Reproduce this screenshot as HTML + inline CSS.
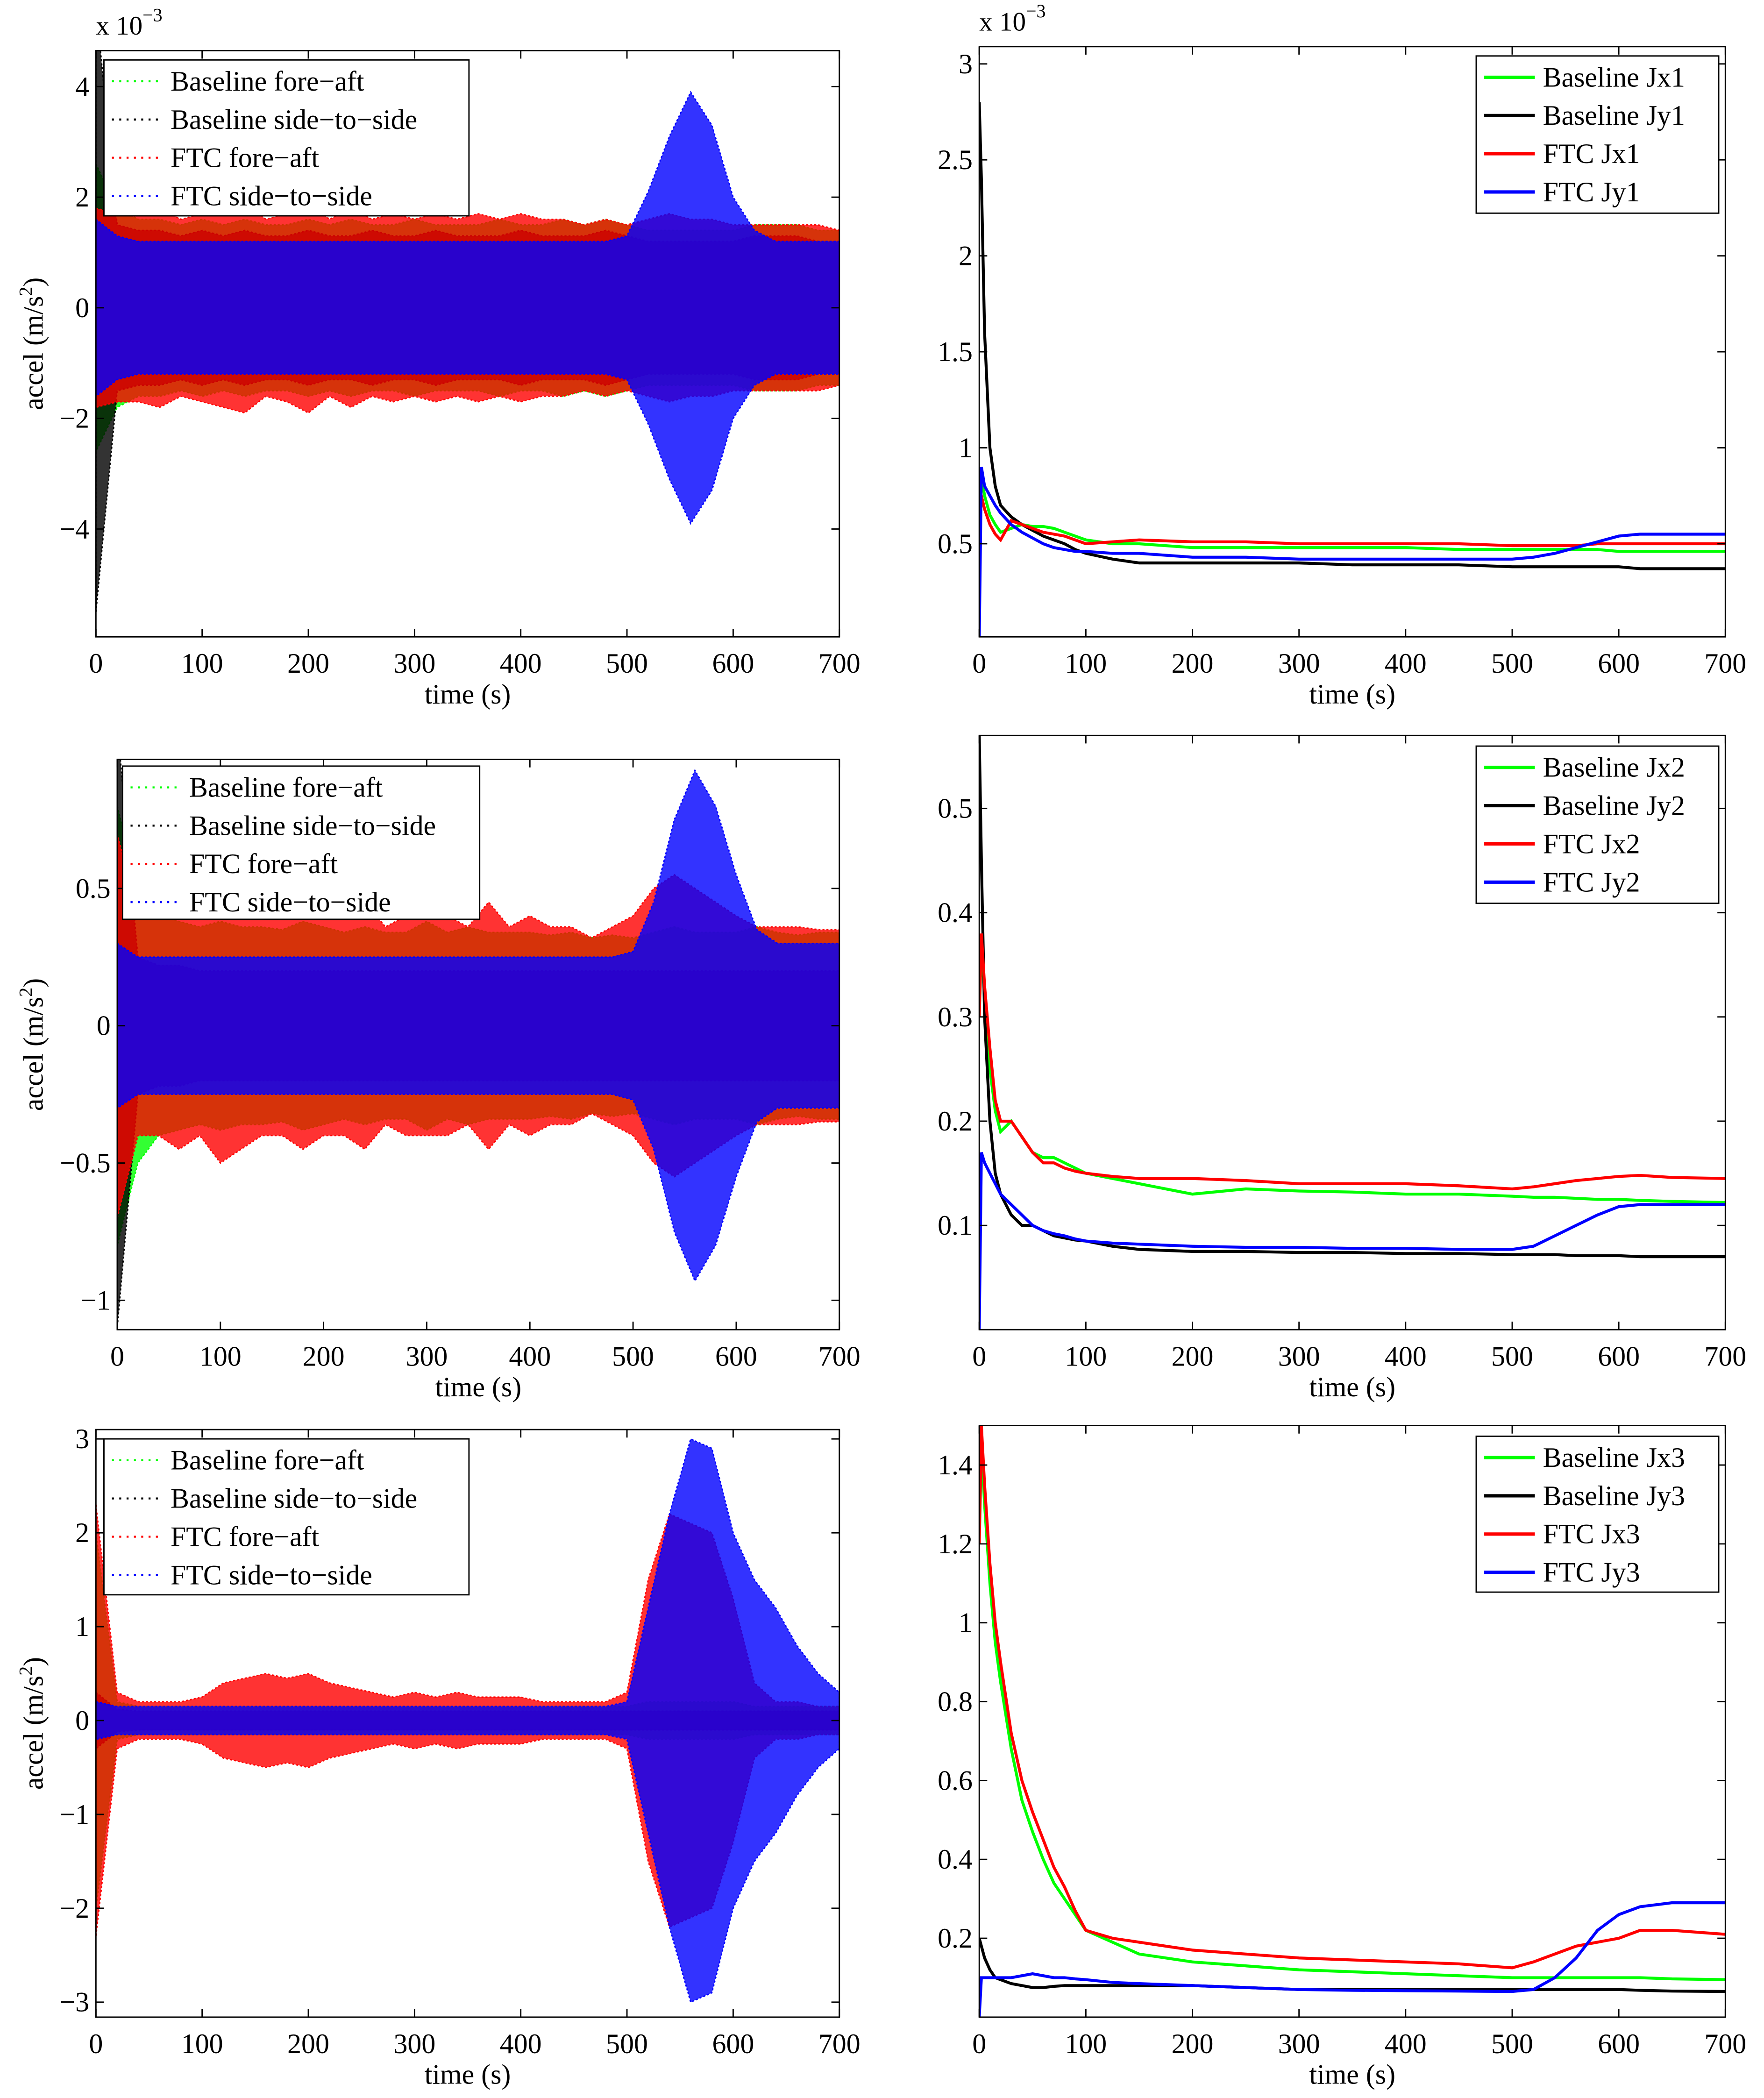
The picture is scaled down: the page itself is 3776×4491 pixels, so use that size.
<!DOCTYPE html>
<html><head><meta charset="utf-8"><style>
html,body{margin:0;padding:0;background:#fff;}
svg{display:block;}
text{font-family:"Liberation Serif",serif;fill:#000;}
</style></head><body>
<svg id="fig" width="3776" height="4491" viewBox="0 0 1324 1574.7" preserveAspectRatio="none" xmlns="http://www.w3.org/2000/svg"></svg>
<script>
const tEnv = [0,20,40,60,80,100,120,140,160,180,200,220,240,260,280,300,320,340,360,380,400,420,440,460,480,500,520,540,560,580,600,620,640,660,680,700];
const r1Green = [2.6,1.8,1.6,1.6,1.5,1.6,1.5,1.6,1.5,1.5,1.6,1.5,1.6,1.5,1.5,1.6,1.5,1.5,1.5,1.6,1.5,1.5,1.6,1.5,1.6,1.5,1.4,1.4,1.4,1.4,1.4,1.5,1.5,1.5,1.4,1.4];
const r1Black = [5.5,1.5,1.4,1.4,1.3,1.4,1.3,1.4,1.3,1.3,1.4,1.3,1.3,1.4,1.3,1.3,1.4,1.3,1.3,1.3,1.4,1.3,1.3,1.3,1.4,1.3,1.2,1.2,1.2,1.2,1.2,1.3,1.3,1.3,1.2,1.2];
const r1Red = [1.8,1.7,1.7,1.8,1.6,1.7,1.8,1.9,1.6,1.7,1.9,1.6,1.8,1.6,1.7,1.6,1.7,1.6,1.7,1.6,1.7,1.6,1.6,1.5,1.6,1.5,1.6,1.7,1.6,1.6,1.5,1.5,1.5,1.5,1.5,1.4];
const r1Blue = [1.6,1.3,1.2,1.2,1.2,1.2,1.2,1.2,1.2,1.2,1.2,1.2,1.2,1.2,1.2,1.2,1.2,1.2,1.2,1.2,1.2,1.2,1.2,1.2,1.2,1.3,2.1,3.1,3.9,3.3,2.0,1.4,1.2,1.2,1.2,1.2];
const r2Green = [0.8,0.5,0.4,0.38,0.36,0.38,0.36,0.36,0.35,0.38,0.36,0.34,0.36,0.34,0.34,0.38,0.34,0.36,0.34,0.34,0.34,0.33,0.34,0.32,0.33,0.32,0.34,0.36,0.34,0.34,0.34,0.36,0.34,0.33,0.34,0.34];
const r2Black = [1.1,0.25,0.22,0.22,0.2,0.2,0.2,0.2,0.2,0.2,0.2,0.2,0.2,0.2,0.2,0.2,0.2,0.2,0.2,0.2,0.2,0.2,0.2,0.2,0.2,0.2,0.2,0.2,0.2,0.2,0.2,0.2,0.2,0.2,0.2,0.2];
const r2Red = [0.7,0.4,0.4,0.45,0.4,0.5,0.45,0.4,0.4,0.45,0.4,0.4,0.45,0.36,0.4,0.4,0.4,0.36,0.45,0.36,0.4,0.36,0.36,0.32,0.36,0.4,0.5,0.55,0.5,0.45,0.4,0.36,0.36,0.36,0.35,0.35];
const r2Blue = [0.3,0.25,0.25,0.25,0.25,0.25,0.25,0.25,0.25,0.25,0.25,0.25,0.25,0.25,0.25,0.25,0.25,0.25,0.25,0.25,0.25,0.25,0.25,0.25,0.25,0.27,0.45,0.75,0.93,0.8,0.55,0.35,0.3,0.3,0.3,0.3];
const r3Green = [2.0,0.2,0.15,0.15,0.15,0.15,0.15,0.15,0.15,0.15,0.15,0.15,0.15,0.15,0.15,0.15,0.15,0.15,0.15,0.15,0.15,0.15,0.15,0.15,0.15,0.15,0.2,0.2,0.2,0.2,0.2,0.15,0.15,0.15,0.15,0.15];
const r3Black = [0.3,0.12,0.1,0.1,0.1,0.1,0.1,0.1,0.1,0.1,0.1,0.1,0.1,0.1,0.1,0.1,0.1,0.1,0.1,0.1,0.1,0.1,0.1,0.1,0.1,0.1,0.1,0.1,0.1,0.1,0.1,0.1,0.1,0.1,0.1,0.1];
const r3Red = [2.3,0.3,0.2,0.2,0.2,0.25,0.4,0.45,0.5,0.45,0.5,0.4,0.35,0.3,0.25,0.3,0.25,0.3,0.25,0.25,0.25,0.2,0.2,0.2,0.2,0.3,1.5,2.2,2.1,2.0,1.3,0.4,0.2,0.2,0.15,0.15];
const r3Blue = [0.2,0.15,0.15,0.15,0.15,0.15,0.15,0.15,0.15,0.15,0.15,0.15,0.15,0.15,0.15,0.15,0.15,0.15,0.15,0.15,0.15,0.15,0.15,0.15,0.15,0.2,1.2,2.2,3.0,2.9,2.0,1.5,1.2,0.8,0.5,0.3];

const tJ = [0,2,5,10,15,20,30,40,50,60,70,80,90,100,125,150,200,250,300,350,400,450,500,520,540,560,580,600,620,650,700];
const j1Gx = [0.9,0.85,0.75,0.65,0.6,0.56,0.58,0.6,0.59,0.59,0.58,0.56,0.54,0.52,0.5,0.5,0.48,0.48,0.48,0.48,0.48,0.47,0.47,0.47,0.47,0.47,0.47,0.46,0.46,0.46,0.46];
const j1By = [2.8,2.4,1.6,1.0,0.8,0.7,0.64,0.6,0.57,0.54,0.52,0.5,0.47,0.45,0.42,0.4,0.4,0.4,0.4,0.39,0.39,0.39,0.38,0.38,0.38,0.38,0.38,0.38,0.37,0.37,0.37];
const j1Rx = [0.8,0.75,0.68,0.6,0.55,0.52,0.62,0.6,0.58,0.56,0.55,0.54,0.52,0.5,0.51,0.52,0.51,0.51,0.5,0.5,0.5,0.5,0.49,0.49,0.49,0.49,0.5,0.5,0.5,0.5,0.5];
const j1Jy = [0,0.9,0.8,0.75,0.7,0.66,0.6,0.56,0.53,0.5,0.48,0.47,0.46,0.46,0.45,0.45,0.43,0.43,0.42,0.42,0.42,0.42,0.42,0.43,0.45,0.48,0.51,0.54,0.55,0.55,0.55];
const j2Gx = [0.3,0.37,0.32,0.25,0.21,0.19,0.2,0.185,0.17,0.165,0.165,0.16,0.155,0.15,0.145,0.14,0.13,0.135,0.133,0.132,0.13,0.13,0.128,0.127,0.127,0.126,0.125,0.125,0.124,0.123,0.122];
const j2By = [0.57,0.45,0.3,0.2,0.15,0.13,0.11,0.1,0.1,0.095,0.09,0.088,0.086,0.085,0.08,0.077,0.075,0.075,0.074,0.074,0.073,0.073,0.072,0.072,0.072,0.071,0.071,0.071,0.07,0.07,0.07];
const j2Rx = [0.3,0.38,0.33,0.27,0.22,0.2,0.2,0.185,0.17,0.16,0.16,0.155,0.152,0.15,0.147,0.145,0.145,0.143,0.14,0.14,0.14,0.138,0.135,0.137,0.14,0.143,0.145,0.147,0.148,0.146,0.145];
const j2Jy = [0,0.17,0.16,0.15,0.14,0.13,0.12,0.11,0.1,0.095,0.092,0.09,0.087,0.085,0.083,0.082,0.08,0.079,0.079,0.078,0.078,0.077,0.077,0.08,0.09,0.1,0.11,0.118,0.12,0.12,0.12];
const j3Gx = [1.2,1.45,1.3,1.1,0.95,0.85,0.68,0.55,0.47,0.4,0.34,0.3,0.26,0.22,0.19,0.16,0.14,0.13,0.12,0.115,0.11,0.105,0.1,0.1,0.1,0.1,0.1,0.1,0.1,0.097,0.095];
const j3By = [0.2,0.18,0.15,0.12,0.1,0.095,0.085,0.08,0.075,0.075,0.078,0.08,0.08,0.08,0.08,0.08,0.08,0.075,0.07,0.07,0.07,0.07,0.07,0.07,0.07,0.07,0.07,0.07,0.068,0.066,0.065];
const j3Rx = [1.2,1.5,1.35,1.15,1.0,0.9,0.72,0.6,0.52,0.45,0.38,0.33,0.27,0.22,0.2,0.19,0.17,0.16,0.15,0.145,0.14,0.135,0.125,0.14,0.16,0.18,0.19,0.2,0.22,0.22,0.21];
const j3Jy = [0,0.1,0.1,0.1,0.1,0.1,0.1,0.105,0.11,0.105,0.1,0.1,0.097,0.095,0.088,0.085,0.08,0.075,0.07,0.068,0.067,0.066,0.065,0.07,0.1,0.15,0.22,0.26,0.28,0.29,0.29];

const legL = ['Baseline fore\u2212aft','Baseline side\u2212to\u2212side','FTC fore\u2212aft','FTC side\u2212to\u2212side'];
const colors = ['#00ff00','#000000','#ff0000','#0000ff'];

const NS='http://www.w3.org/2000/svg';
const svg=document.getElementById('fig');
function mk(tag,attrs,parent){const e=document.createElementNS(NS,tag);for(const k in attrs)e.setAttribute(k,attrs[k]);(parent||svg).appendChild(e);return e;}
function txt(s,x,y,size,anchor,parent){const t=mk('text',{x:x,y:y,'font-size':size,'text-anchor':anchor||'start'},parent);t.textContent=s;return t;}

function panel(cfg){
  const g=mk('g',{});
  
  
  const X=t=>cfg.x0+(t/700)*(cfg.x1-cfg.x0);
  const Y=v=>cfg.y1-(v-cfg.ymin)/(cfg.ymax-cfg.ymin)*(cfg.y1-cfg.y0);
  const clipId='c'+cfg.name;
  const cp=mk('clipPath',{id:clipId},g);mk('rect',{x:cfg.x0,y:cfg.y0,width:cfg.x1-cfg.x0,height:cfg.y1-cfg.y0},cp);
  const plot=mk('g',{'clip-path':'url(#'+clipId+')'},g);
  cfg.series.forEach((arr,i)=>{
    if(cfg.env){
      let up=tEnv.map((t,k)=>X(t)+','+Y(arr[k]));
      let dn=tEnv.map((t,k)=>X(t)+','+Y(-arr[k])).reverse();
      const p=mk('polygon',{points:up.concat(dn).join(' '),fill:colors[i],'fill-opacity':0.8,stroke:colors[i],'stroke-width':1,'stroke-dasharray':'1.5,1.5'},plot);
      
      
    } else {
      const pts=tJ.map((t,k)=>X(t)+','+Y(arr[k])).join(' ');
      const p=mk('polyline',{points:pts,fill:'none',stroke:colors[i],'stroke-width':2.2},plot);
      
      
    }
  });
  mk('rect',{x:cfg.x0,y:cfg.y0,width:cfg.x1-cfg.x0,height:cfg.y1-cfg.y0,fill:'none',stroke:'#000','stroke-width':1},g);
  for(let t=0;t<=700;t+=100){
    const x=X(t);
    mk('line',{x1:x,y1:cfg.y1,x2:x,y2:cfg.y1-6,stroke:'#000'},g);
    mk('line',{x1:x,y1:cfg.y0,x2:x,y2:cfg.y0+6,stroke:'#000'},g);
    const tl=txt(String(t),x,cfg.y1+27,21,'middle',g);
    
    
  }
  cfg.yticks.forEach((v,k)=>{
    const y=Y(v);
    mk('line',{x1:cfg.x0,y1:y,x2:cfg.x0+6,y2:y,stroke:'#000'},g);
    mk('line',{x1:cfg.x1,y1:y,x2:cfg.x1-6,y2:y,stroke:'#000'},g);
    const tl=txt(cfg.ylabels[k],cfg.x0-5,y+7,21,'end',g);
    
    
  });
  const xt=txt('time (s)',(cfg.x0+cfg.x1)/2,cfg.y1+50,21,'middle',g);
  
  
  if(cfg.exp){
    const e=txt('x 10',cfg.x0,cfg.y0-12,20,'start',g);
    const s=mk('tspan',{dy:-10,'font-size':14},e);s.textContent='\u22123';
    
    
  }
  if(cfg.ylab){
    const cy=(cfg.y0+cfg.y1)/2;
    const yt=mk('text',{x:0,y:0,'font-size':21,'text-anchor':'middle',transform:'translate(32,'+cy+') rotate(-90)'},g);
    yt.appendChild(document.createTextNode('accel (m/s'));
    const sp=mk('tspan',{dy:-8,'font-size':14},yt);sp.textContent='2';
    const sp2=mk('tspan',{dy:8},yt);sp2.textContent=')';
    
    
  }
  const L=cfg.leg;
  const lg=mk('g',{},g);
  
  
  mk('rect',{x:L.x,y:L.y,width:L.w,height:L.h,fill:'#fff',stroke:'#000','stroke-width':1},lg);
  L.labels.forEach((s,i)=>{
    const y=L.y+16+i*28.7;
    const le=mk('g',{},lg);
    
    
    mk('line',{x1:L.x+6,y1:y,x2:L.x+44,y2:y,stroke:colors[i],'stroke-width':cfg.env?1.5:2.5,'stroke-dasharray':cfg.env?'1.5,4':'none'},le);
    txt(s,L.x+50,y+7,21,'start',le);
  });
}

panel({name:'accel-panel-1',env:true,x0:72,x1:630,y0:38,y1:478,ymin:-5.95,ymax:4.65,yticks:[-4,-2,0,2,4],ylabels:['\u22124','\u22122','0','2','4'],exp:true,ylab:true,series:[r1Green,r1Black,r1Red,r1Blue],leg:{x:78,y:45,w:274,h:117,labels:legL}});
panel({name:'cost-panel-1',env:false,x0:735,x1:1295,y0:35,y1:478,ymin:0.015,ymax:3.09,yticks:[0.5,1,1.5,2,2.5,3],ylabels:['0.5','1','1.5','2','2.5','3'],exp:true,series:[j1Gx,j1By,j1Rx,j1Jy],leg:{x:1108,y:42,w:182,h:118,labels:['Baseline Jx1','Baseline Jy1','FTC Jx1','FTC Jy1']}});
panel({name:'accel-panel-2',env:true,x0:88,x1:630,y0:570,y1:998,ymin:-1.107,ymax:0.97,yticks:[-1,-0.5,0,0.5],ylabels:['\u22121','\u22120.5','0','0.5'],ylab:true,series:[r2Green,r2Black,r2Red,r2Blue],leg:{x:92,y:575,w:268,h:115,labels:legL}});
panel({name:'cost-panel-2',env:false,x0:735,x1:1295,y0:552,y1:998,ymin:0,ymax:0.57,yticks:[0.1,0.2,0.3,0.4,0.5],ylabels:['0.1','0.2','0.3','0.4','0.5'],series:[j2Gx,j2By,j2Rx,j2Jy],leg:{x:1108,y:560,w:182,h:118,labels:['Baseline Jx2','Baseline Jy2','FTC Jx2','FTC Jy2']}});
panel({name:'accel-panel-3',env:true,x0:72,x1:630,y0:1073,y1:1514,ymin:-3.16,ymax:3.1,yticks:[-3,-2,-1,0,1,2,3],ylabels:['\u22123','\u22122','\u22121','0','1','2','3'],ylab:true,series:[r3Green,r3Black,r3Red,r3Blue],leg:{x:78,y:1080,w:274,h:117,labels:legL}});
panel({name:'cost-panel-3',env:false,x0:735,x1:1295,y0:1070,y1:1514,ymin:0,ymax:1.5,yticks:[0.2,0.4,0.6,0.8,1,1.2,1.4],ylabels:['0.2','0.4','0.6','0.8','1','1.2','1.4'],series:[j3Gx,j3By,j3Rx,j3Jy],leg:{x:1108,y:1078,w:182,h:117,labels:['Baseline Jx3','Baseline Jy3','FTC Jx3','FTC Jy3']}});
</script>
</body></html>
